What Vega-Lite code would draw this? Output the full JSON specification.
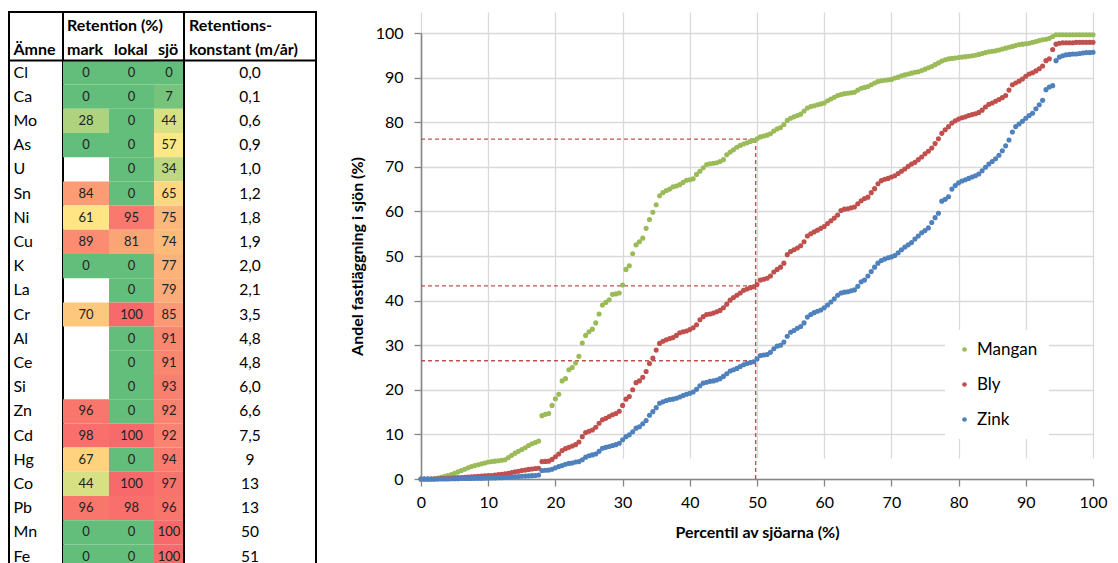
{
"$schema":"https://vega.github.io/schema/vega-lite/v6.json",
"padding":{"left":7,"top":11,"right":5,"bottom":0},
"background":"white",
"bounds":"flush",
"spacing":412,
"resolve":{"scale":{"color":"independent","fill":"independent"}},
"config":{"view":{"stroke":null},"font":"Lato",
"axis":{"labelFont":"Lato","labelFontSize":16,"labelColor":"#000","titleFont":"Lato","titleFontSize":16,"titleFontWeight":"bold","titleColor":"#000","gridColor":"#d9d9d9","gridWidth":1.3,"domainColor":"#868686","domainWidth":1.6,"tickColor":"#868686","tickWidth":1.3,"tickSize":7},
"axisX":{"labelFlush":false,"labelPadding":8,"titlePadding":14},
"axisY":{"labelPadding":11,"titlePadding":10}},
"datasets":{
"table":[
{"amne":"Cl","mark":0,"lokal":0,"sjo":0,"k":"0,0"},
{"amne":"Ca","mark":0,"lokal":0,"sjo":7,"k":"0,1"},
{"amne":"Mo","mark":28,"lokal":0,"sjo":44,"k":"0,6"},
{"amne":"As","mark":0,"lokal":0,"sjo":57,"k":"0,9"},
{"amne":"U","mark":null,"lokal":0,"sjo":34,"k":"1,0"},
{"amne":"Sn","mark":84,"lokal":0,"sjo":65,"k":"1,2"},
{"amne":"Ni","mark":61,"lokal":95,"sjo":75,"k":"1,8"},
{"amne":"Cu","mark":89,"lokal":81,"sjo":74,"k":"1,9"},
{"amne":"K","mark":0,"lokal":0,"sjo":77,"k":"2,0"},
{"amne":"La","mark":null,"lokal":0,"sjo":79,"k":"2,1"},
{"amne":"Cr","mark":70,"lokal":100,"sjo":85,"k":"3,5"},
{"amne":"Al","mark":null,"lokal":0,"sjo":91,"k":"4,8"},
{"amne":"Ce","mark":null,"lokal":0,"sjo":91,"k":"4,8"},
{"amne":"Si","mark":null,"lokal":0,"sjo":93,"k":"6,0"},
{"amne":"Zn","mark":96,"lokal":0,"sjo":92,"k":"6,6"},
{"amne":"Cd","mark":98,"lokal":100,"sjo":92,"k":"7,5"},
{"amne":"Hg","mark":67,"lokal":0,"sjo":94,"k":"9"},
{"amne":"Co","mark":44,"lokal":100,"sjo":97,"k":"13"},
{"amne":"Pb","mark":96,"lokal":98,"sjo":96,"k":"13"},
{"amne":"Mn","mark":0,"lokal":0,"sjo":100,"k":"50"},
{"amne":"Fe","mark":0,"lokal":0,"sjo":100,"k":"51"}
],
"lakes":[
{"p":0,"M":0,"B":0,"Z":0},{"p":0.5,"M":0,"B":0,"Z":0},{"p":1,"M":0,"B":0,"Z":0},{"p":1.5,"M":0,"B":0,"Z":0},
{"p":2,"M":0.1,"B":0,"Z":0},{"p":2.5,"M":0.2,"B":0.05,"Z":0},{"p":3,"M":0.4,"B":0.1,"Z":0},{"p":3.5,"M":0.6,"B":0.1,"Z":0},
{"p":4,"M":0.8,"B":0.15,"Z":0},{"p":4.5,"M":1.0,"B":0.2,"Z":0.05},{"p":5,"M":1.3,"B":0.25,"Z":0.05},{"p":5.5,"M":1.6,"B":0.3,"Z":0.08},
{"p":6,"M":1.9,"B":0.35,"Z":0.1},{"p":6.5,"M":2.2,"B":0.4,"Z":0.1},{"p":7,"M":2.5,"B":0.45,"Z":0.12},{"p":7.5,"M":2.8,"B":0.5,"Z":0.13},
{"p":8,"M":3.0,"B":0.55,"Z":0.15},{"p":8.5,"M":3.2,"B":0.6,"Z":0.15},{"p":9,"M":3.4,"B":0.65,"Z":0.15},{"p":9.5,"M":3.6,"B":0.7,"Z":0.18},
{"p":10,"M":3.8,"B":0.75,"Z":0.2},{"p":10.5,"M":3.9,"B":0.8,"Z":0.22},{"p":11,"M":4.0,"B":0.9,"Z":0.25},{"p":11.5,"M":4.1,"B":1.0,"Z":0.28},
{"p":12,"M":4.2,"B":1.05,"Z":0.3},{"p":12.5,"M":4.3,"B":1.15,"Z":0.35},{"p":13,"M":4.8,"B":1.3,"Z":0.4},{"p":13.5,"M":5.3,"B":1.45,"Z":0.45},
{"p":14,"M":5.8,"B":1.6,"Z":0.5},{"p":14.5,"M":6.2,"B":1.75,"Z":0.55},{"p":15,"M":6.6,"B":1.9,"Z":0.6},{"p":15.5,"M":7.0,"B":2.0,"Z":0.65},
{"p":16,"M":7.5,"B":2.15,"Z":0.7},{"p":16.5,"M":7.9,"B":2.25,"Z":0.75},{"p":17,"M":8.2,"B":2.35,"Z":0.8},{"p":17.5,"M":8.5,"B":2.4,"Z":0.9},
{"p":18,"M":14.2,"B":3.9,"Z":1.9},{"p":18.5,"M":14.5,"B":3.95,"Z":1.95},{"p":19,"M":14.7,"B":4.0,"Z":2.0},{"p":19.5,"M":16.5,"B":4.4,"Z":2.2},
{"p":20,"M":18.0,"B":5.0,"Z":2.5},{"p":20.5,"M":19.0,"B":5.6,"Z":2.8},{"p":21,"M":22.0,"B":6.4,"Z":3.0},{"p":21.5,"M":22.5,"B":6.8,"Z":3.3},
{"p":22,"M":24.5,"B":7.1,"Z":3.5},{"p":22.5,"M":25.0,"B":7.4,"Z":3.6},{"p":23,"M":26.0,"B":7.7,"Z":3.8},{"p":23.5,"M":27.5,"B":8.3,"Z":3.9},
{"p":24,"M":30.5,"B":9.5,"Z":4.3},{"p":24.5,"M":32.2,"B":10.4,"Z":4.9},{"p":25,"M":33.0,"B":10.7,"Z":5.2},{"p":25.5,"M":33.6,"B":11.0,"Z":5.4},
{"p":26,"M":35.0,"B":11.6,"Z":5.6},{"p":26.5,"M":37.0,"B":12.5,"Z":6.2},{"p":27,"M":39.0,"B":13.3,"Z":6.9},{"p":27.5,"M":39.6,"B":13.6,"Z":7.1},
{"p":28,"M":40.2,"B":14.0,"Z":7.3},{"p":28.5,"M":41.4,"B":14.4,"Z":7.5},{"p":29,"M":41.5,"B":14.7,"Z":7.7},{"p":29.5,"M":41.7,"B":15.2,"Z":8.0},
{"p":30,"M":43.5,"B":16.5,"Z":8.8},{"p":30.5,"M":47.0,"B":17.9,"Z":9.5},{"p":31,"M":47.8,"B":18.5,"Z":9.9},{"p":31.5,"M":50.5,"B":20.0,"Z":10.6},
{"p":32,"M":52.5,"B":21.6,"Z":11.4},{"p":32.5,"M":53.2,"B":22.0,"Z":11.7},{"p":33,"M":54.0,"B":22.8,"Z":12.4},{"p":33.5,"M":56.2,"B":24.1,"Z":13.1},
{"p":34,"M":58.2,"B":25.9,"Z":14.3},{"p":34.5,"M":59.8,"B":27.1,"Z":15.1},{"p":35,"M":61.5,"B":28.9,"Z":16.0},{"p":35.5,"M":63.5,"B":30.4,"Z":17.0},
{"p":36,"M":64.2,"B":30.9,"Z":17.3},{"p":36.5,"M":64.7,"B":31.2,"Z":17.6},{"p":37,"M":65.0,"B":31.5,"Z":17.8},{"p":37.5,"M":65.5,"B":31.7,"Z":17.9},
{"p":38,"M":65.7,"B":32.2,"Z":18.1},{"p":38.5,"M":66.0,"B":32.8,"Z":18.4},{"p":39,"M":66.5,"B":33.0,"Z":18.7},{"p":39.5,"M":67.0,"B":33.2,"Z":19.0},
{"p":40,"M":67.1,"B":33.5,"Z":19.2},{"p":40.5,"M":67.3,"B":33.9,"Z":19.5},{"p":41,"M":68.3,"B":34.6,"Z":20.1},{"p":41.5,"M":69.0,"B":35.7,"Z":20.9},
{"p":42,"M":69.8,"B":36.4,"Z":21.5},{"p":42.5,"M":70.5,"B":36.9,"Z":21.7},{"p":43,"M":70.7,"B":37.0,"Z":21.9},{"p":43.5,"M":70.8,"B":37.2,"Z":22.0},
{"p":44,"M":70.9,"B":37.5,"Z":22.2},{"p":44.5,"M":71.2,"B":37.8,"Z":22.5},{"p":45,"M":71.6,"B":38.4,"Z":23.0},{"p":45.5,"M":72.7,"B":39.2,"Z":23.6},
{"p":46,"M":73.3,"B":40.1,"Z":24.2},{"p":46.5,"M":73.8,"B":40.7,"Z":24.5},{"p":47,"M":74.4,"B":41.2,"Z":24.8},{"p":47.5,"M":74.8,"B":41.7,"Z":25.2},
{"p":48,"M":75.1,"B":42.3,"Z":25.6},{"p":48.5,"M":75.4,"B":42.6,"Z":25.9},{"p":49,"M":75.7,"B":42.9,"Z":26.1},{"p":49.5,"M":75.9,"B":43.1,"Z":26.3},
{"p":50,"M":76.3,"B":43.6,"Z":26.9},{"p":50.5,"M":76.7,"B":44.6,"Z":27.7},{"p":51,"M":76.9,"B":44.8,"Z":27.8},{"p":51.5,"M":77.1,"B":45.0,"Z":27.9},
{"p":52,"M":77.4,"B":45.5,"Z":28.4},{"p":52.5,"M":78.0,"B":46.4,"Z":29.2},{"p":53,"M":78.5,"B":47.0,"Z":29.8},{"p":53.5,"M":78.8,"B":47.5,"Z":30.0},
{"p":54,"M":79.5,"B":48.4,"Z":30.7},{"p":54.5,"M":80.4,"B":50.3,"Z":32.0},{"p":55,"M":80.9,"B":51.0,"Z":32.9},{"p":55.5,"M":81.2,"B":51.4,"Z":33.3},
{"p":56,"M":81.5,"B":51.8,"Z":33.8},{"p":56.5,"M":81.8,"B":52.3,"Z":34.2},{"p":57,"M":82.5,"B":53.2,"Z":35.0},{"p":57.5,"M":83.2,"B":54.5,"Z":36.3},
{"p":58,"M":83.5,"B":55.0,"Z":36.9},{"p":58.5,"M":83.7,"B":55.4,"Z":37.3},{"p":59,"M":83.9,"B":55.8,"Z":37.6},{"p":59.5,"M":84.1,"B":56.2,"Z":37.9},
{"p":60,"M":84.3,"B":56.6,"Z":38.4},{"p":60.5,"M":84.8,"B":57.3,"Z":39.0},{"p":61,"M":85.2,"B":57.9,"Z":39.7},{"p":61.5,"M":85.6,"B":58.5,"Z":40.4},
{"p":62,"M":86.0,"B":59.2,"Z":41.2},{"p":62.5,"M":86.2,"B":60.2,"Z":41.7},{"p":63,"M":86.4,"B":60.5,"Z":41.9},{"p":63.5,"M":86.5,"B":60.6,"Z":42.0},
{"p":64,"M":86.6,"B":60.8,"Z":42.2},{"p":64.5,"M":86.7,"B":61.0,"Z":42.4},{"p":65,"M":87.2,"B":61.7,"Z":43.2},{"p":65.5,"M":87.6,"B":62.4,"Z":44.2},
{"p":66,"M":87.8,"B":62.9,"Z":44.6},{"p":66.5,"M":88.0,"B":63.2,"Z":45.5},{"p":67,"M":88.4,"B":64.2,"Z":46.5},{"p":67.5,"M":88.8,"B":65.1,"Z":47.5},
{"p":68,"M":89.1,"B":66.2,"Z":48.4},{"p":68.5,"M":89.3,"B":66.9,"Z":49.0},{"p":69,"M":89.4,"B":67.2,"Z":49.3},{"p":69.5,"M":89.5,"B":67.4,"Z":49.6},
{"p":70,"M":89.6,"B":67.7,"Z":49.8},{"p":70.5,"M":89.9,"B":68.0,"Z":50.1},{"p":71,"M":90.1,"B":68.5,"Z":50.7},{"p":71.5,"M":90.4,"B":69.0,"Z":51.4},
{"p":72,"M":90.6,"B":69.5,"Z":52.0},{"p":72.5,"M":90.8,"B":70.1,"Z":52.5},{"p":73,"M":91.0,"B":70.6,"Z":53.0},{"p":73.5,"M":91.2,"B":71.0,"Z":53.8},
{"p":74,"M":91.3,"B":71.6,"Z":54.5},{"p":74.5,"M":91.6,"B":72.2,"Z":55.2},{"p":75,"M":91.9,"B":72.9,"Z":55.7},{"p":75.5,"M":92.2,"B":73.5,"Z":56.3},
{"p":76,"M":92.5,"B":74.2,"Z":57.5},{"p":76.5,"M":92.9,"B":75.2,"Z":58.6},{"p":77,"M":93.3,"B":76.3,"Z":59.6},{"p":77.5,"M":93.7,"B":77.5,"Z":62.3},
{"p":78,"M":94.0,"B":78.3,"Z":62.7},{"p":78.5,"M":94.2,"B":79.0,"Z":63.3},{"p":79,"M":94.3,"B":79.8,"Z":65.0},{"p":79.5,"M":94.4,"B":80.3,"Z":65.8},
{"p":80,"M":94.5,"B":80.7,"Z":66.4},{"p":80.5,"M":94.6,"B":81.0,"Z":66.8},{"p":81,"M":94.7,"B":81.2,"Z":67.1},{"p":81.5,"M":94.8,"B":81.5,"Z":67.4},
{"p":82,"M":94.9,"B":81.7,"Z":67.7},{"p":82.5,"M":95.0,"B":81.9,"Z":68.0},{"p":83,"M":95.2,"B":82.2,"Z":68.4},{"p":83.5,"M":95.4,"B":82.7,"Z":69.1},
{"p":84,"M":95.6,"B":83.4,"Z":69.9},{"p":84.5,"M":95.8,"B":84.0,"Z":70.6},{"p":85,"M":95.9,"B":84.3,"Z":71.2},{"p":85.5,"M":96.0,"B":84.7,"Z":71.8},
{"p":86,"M":96.2,"B":85.1,"Z":72.6},{"p":86.5,"M":96.4,"B":85.5,"Z":73.6},{"p":87,"M":96.6,"B":86.0,"Z":74.7},{"p":87.5,"M":96.8,"B":87.2,"Z":76.0},
{"p":88,"M":97.0,"B":88.4,"Z":77.8},{"p":88.5,"M":97.2,"B":88.8,"Z":79.0},{"p":89,"M":97.4,"B":89.2,"Z":79.6},{"p":89.5,"M":97.5,"B":89.7,"Z":80.2},
{"p":90,"M":97.6,"B":90.3,"Z":80.9},{"p":90.5,"M":97.7,"B":90.8,"Z":81.5},{"p":91,"M":97.9,"B":91.1,"Z":82.0},{"p":91.5,"M":98.1,"B":91.5,"Z":83.0},
{"p":92,"M":98.3,"B":92.0,"Z":83.9},{"p":92.5,"M":98.5,"B":92.6,"Z":84.9},{"p":93,"M":98.6,"B":93.8,"Z":87.3},{"p":93.5,"M":98.8,"B":94.2,"Z":87.9},
{"p":94,"M":99.2,"B":96.3,"Z":88.2},{"p":94.5,"M":99.6,"B":97.5,"Z":93.8},{"p":95,"M":99.6,"B":97.7,"Z":94.6},{"p":95.5,"M":99.6,"B":97.8,"Z":94.9},
{"p":96,"M":99.6,"B":97.8,"Z":95.1},{"p":96.5,"M":99.6,"B":97.8,"Z":95.2},{"p":97,"M":99.6,"B":97.8,"Z":95.3},{"p":97.5,"M":99.6,"B":97.9,"Z":95.3},
{"p":98,"M":99.6,"B":97.9,"Z":95.4},{"p":98.5,"M":99.6,"B":97.9,"Z":95.5},{"p":99,"M":99.6,"B":97.9,"Z":95.6},{"p":99.5,"M":99.6,"B":97.9,"Z":95.6},
{"p":100,"M":99.6,"B":97.9,"Z":95.7}
],
"guides":[{"lo":0,"hi":49.8,"lvl":76.2},{"lo":0,"hi":49.8,"lvl":43.3},{"lo":0,"hi":49.8,"lvl":26.5}],
"vguide":[{"at":49.8,"lo":0,"hi":76.2}]
},
"hconcat":[
{"hconcat":[
{"width":54,"height":556.6,"view":{"stroke":"#000","strokeWidth":2},
"encoding":{"y":{"field":"amne","type":"nominal","axis":null,"scale":{"domain":["h1","h2","Cl","Ca","Mo","As","U","Sn","Ni","Cu","K","La","Cr","Al","Ce","Si","Zn","Cd","Hg","Co","Pb","Mn","Fe"],"paddingInner":0,"paddingOuter":0}}},
"layer":[
{"data":{"name":"table"},"mark":{"type":"text","align":"left","baseline":"middle","dx":4.5,"fontSize":16,"color":"#000"},"encoding":{"x":{"value":0},"text":{"field":"amne","type":"nominal"}}},
{"data":{"values":[{"amne":"h2","t":"Ämne"}]},"mark":{"type":"text","align":"left","baseline":"middle","dx":4.5,"dy":1.5,"fontSize":16,"fontWeight":"bold","color":"#000"},"encoding":{"x":{"value":0},"text":{"field":"t","type":"nominal"}}},
{"data":{"values":[{"amne":"Cl"}]},"mark":{"type":"rule","color":"#000","strokeWidth":2},"encoding":{"y":{"field":"amne","type":"nominal","bandPosition":0}}}
]},
{"width":46,"height":556.6,
"encoding":{"y":{"field":"amne","type":"nominal","axis":null,"scale":{"domain":["h1","h2","Cl","Ca","Mo","As","U","Sn","Ni","Cu","K","La","Cr","Al","Ce","Si","Zn","Cd","Hg","Co","Pb","Mn","Fe"],"paddingInner":0,"paddingOuter":0}}},
"layer":[
{"data":{"name":"table"},"transform":[{"filter":"datum.mark != null"}],"mark":{"type":"rect"},"encoding":{"x":{"value":0},"x2":{"value":46},"fill":{"field":"mark","type":"quantitative","legend":null,"scale":{"domain":[0,59,100],"range":["#63be7b","#ffeb84","#f8696b"],"interpolate":"rgb"}}}},
{"data":{"name":"table"},"transform":[{"filter":"datum.mark != null"}],"mark":{"type":"text","baseline":"middle","fontSize":13,"color":"#222"},"encoding":{"text":{"field":"mark","type":"nominal"}}},
{"data":{"values":[{"amne":"h1","t":"Retention (%)"},{"amne":"h2","t":"mark"}]},"mark":{"type":"text","align":"left","baseline":"middle","dx":4,"dy":1.5,"fontSize":16,"fontWeight":"bold","color":"#000"},"encoding":{"x":{"value":0},"text":{"field":"t","type":"nominal"}}},
{"data":{"values":[{"amne":"h1"},{"amne":"Cl"}]},"mark":{"type":"rule","color":"#000","strokeWidth":2},"encoding":{"y":{"field":"amne","type":"nominal","bandPosition":0}}}
]},
{"width":45,"height":556.6,
"encoding":{"y":{"field":"amne","type":"nominal","axis":null,"scale":{"domain":["h1","h2","Cl","Ca","Mo","As","U","Sn","Ni","Cu","K","La","Cr","Al","Ce","Si","Zn","Cd","Hg","Co","Pb","Mn","Fe"],"paddingInner":0,"paddingOuter":0}}},
"layer":[
{"data":{"name":"table"},"mark":{"type":"rect"},"encoding":{"x":{"value":0},"x2":{"value":45},"fill":{"field":"lokal","type":"quantitative","legend":null,"scale":{"domain":[0,59,100],"range":["#63be7b","#ffeb84","#f8696b"],"interpolate":"rgb"}}}},
{"data":{"name":"table"},"mark":{"type":"text","baseline":"middle","fontSize":13,"color":"#222"},"encoding":{"text":{"field":"lokal","type":"nominal"}}},
{"data":{"values":[{"amne":"h2","t":"lokal"}]},"mark":{"type":"text","align":"left","baseline":"middle","dx":5,"dy":1.5,"fontSize":16,"fontWeight":"bold","color":"#000"},"encoding":{"x":{"value":0},"text":{"field":"t","type":"nominal"}}},
{"data":{"values":[{"amne":"h1"},{"amne":"Cl"}]},"mark":{"type":"rule","color":"#000","strokeWidth":2},"encoding":{"y":{"field":"amne","type":"nominal","bandPosition":0}}}
]},
{"width":30,"height":556.6,
"encoding":{"y":{"field":"amne","type":"nominal","axis":null,"scale":{"domain":["h1","h2","Cl","Ca","Mo","As","U","Sn","Ni","Cu","K","La","Cr","Al","Ce","Si","Zn","Cd","Hg","Co","Pb","Mn","Fe"],"paddingInner":0,"paddingOuter":0}}},
"layer":[
{"data":{"name":"table"},"mark":{"type":"rect"},"encoding":{"x":{"value":0},"x2":{"value":30},"fill":{"field":"sjo","type":"quantitative","legend":null,"scale":{"domain":[0,59,100],"range":["#63be7b","#ffeb84","#f8696b"],"interpolate":"rgb"}}}},
{"data":{"name":"table"},"mark":{"type":"text","baseline":"middle","fontSize":13,"color":"#222"},"encoding":{"text":{"field":"sjo","type":"nominal"}}},
{"data":{"values":[{"amne":"h2","t":"sjö"}]},"mark":{"type":"text","align":"left","baseline":"middle","dx":4,"dy":1.5,"fontSize":16,"fontWeight":"bold","color":"#000"},"encoding":{"x":{"value":0},"text":{"field":"t","type":"nominal"}}},
{"data":{"values":[{"amne":"h1"},{"amne":"Cl"}]},"mark":{"type":"rule","color":"#000","strokeWidth":2},"encoding":{"y":{"field":"amne","type":"nominal","bandPosition":0}}}
]},
{"width":132,"height":556.6,"view":{"stroke":"#000","strokeWidth":2},
"encoding":{"y":{"field":"amne","type":"nominal","axis":null,"scale":{"domain":["h1","h2","Cl","Ca","Mo","As","U","Sn","Ni","Cu","K","La","Cr","Al","Ce","Si","Zn","Cd","Hg","Co","Pb","Mn","Fe"],"paddingInner":0,"paddingOuter":0}}},
"layer":[
{"data":{"name":"table"},"mark":{"type":"text","baseline":"middle","fontSize":15.5,"color":"#000"},"encoding":{"text":{"field":"k","type":"nominal"}}},
{"data":{"values":[{"amne":"h1","t":"Retentions-"},{"amne":"h2","t":"konstant (m/år)"}]},"mark":{"type":"text","align":"left","baseline":"middle","dx":5,"dy":1.5,"fontSize":16,"fontWeight":"bold","color":"#000"},"encoding":{"x":{"value":0},"text":{"field":"t","type":"nominal"}}},
{"data":{"values":[{"amne":"Cl"}]},"mark":{"type":"rule","color":"#000","strokeWidth":2},"encoding":{"y":{"field":"amne","type":"nominal","bandPosition":0}}}
]}
],"spacing":0,"bounds":"flush"},
{"width":672,"height":467,
"layer":[
{"data":{"name":"guides"},"mark":{"type":"rule","color":"#c0504d","strokeWidth":1.4,"strokeDash":[4,3]},
"encoding":{"x":{"field":"lo","type":"quantitative","title":"Percentil av sjöarna (%)","scale":{"domain":[0,100],"nice":false},"axis":{"values":[0,10,20,30,40,50,60,70,80,90,100],"title":"Percentil av sjöarna (%)"}},"x2":{"field":"hi"},
"y":{"field":"lvl","type":"quantitative","title":"Andel fastläggning i sjön (%)","scale":{"domain":[0,100],"nice":false,"range":[467,21]},"axis":{"values":[0,10,20,30,40,50,60,70,80,90,100],"title":"Andel fastläggning i sjön (%)"}}}},
{"data":{"name":"vguide"},"mark":{"type":"rule","color":"#c0504d","strokeWidth":1.4,"strokeDash":[4,3]},
"encoding":{"x":{"field":"at","type":"quantitative","title":"Percentil av sjöarna (%)"},"y":{"field":"lo","type":"quantitative","title":"Andel fastläggning i sjön (%)"},"y2":{"field":"hi"}}},
{"data":{"name":"lakes"},"mark":{"type":"point","filled":true,"size":26,"opacity":1},
"encoding":{"x":{"field":"p","type":"quantitative","title":"Percentil av sjöarna (%)"},"y":{"field":"M","type":"quantitative","title":"Andel fastläggning i sjön (%)"},
"color":{"datum":"Mangan","scale":{"domain":["Mangan","Bly","Zink"],"range":["#9bbb59","#c0504d","#4f81bd"]},
"legend":{"title":null,"orient":"none","legendX":524,"legendY":318,"fillColor":"#ffffff","padding":11,"rowPadding":17,"labelFontSize":17,"labelFont":"Lato","labelColor":"#000","symbolSize":22,"symbolType":"circle","labelOffset":4}}}},
{"data":{"name":"lakes"},"mark":{"type":"point","filled":true,"size":26,"opacity":1},
"encoding":{"x":{"field":"p","type":"quantitative","title":"Percentil av sjöarna (%)"},"y":{"field":"B","type":"quantitative","title":"Andel fastläggning i sjön (%)"},"color":{"datum":"Bly"}}},
{"data":{"name":"lakes"},"mark":{"type":"point","filled":true,"size":26,"opacity":1},
"encoding":{"x":{"field":"p","type":"quantitative","title":"Percentil av sjöarna (%)"},"y":{"field":"Z","type":"quantitative","title":"Andel fastläggning i sjön (%)"},"color":{"datum":"Zink"}}}
]}
]
}
